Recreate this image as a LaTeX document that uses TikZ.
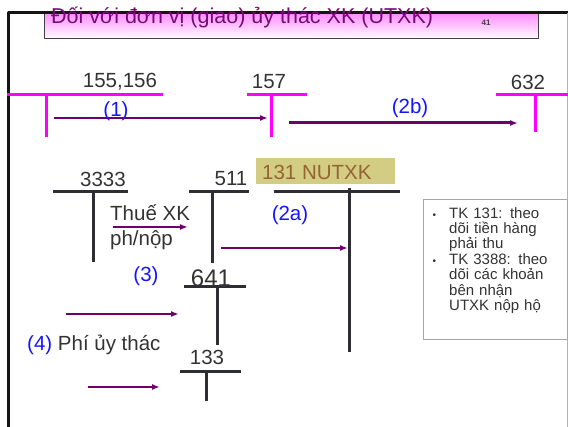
\documentclass[tikz,border=0pt]{standalone}
\usepackage{fontspec}
\setmainfont{Liberation Sans}
\usetikzlibrary{arrows.meta}
\definecolor{frameC}{RGB}{20,20,20}
\definecolor{titleC}{RGB}{120,10,120}
\definecolor{pinkC}{RGB}{255,0,255}
\definecolor{inkC}{RGB}{45,45,52}
\definecolor{flowC}{RGB}{110,0,110}
\definecolor{stepC}{RGB}{20,20,255}
\definecolor{oliveC}{RGB}{210,205,130}
\definecolor{brownC}{RGB}{150,100,50}
\tikzset{pacct/.style={draw=pinkC,line width=3pt},
 bacct/.style={draw=inkC,line width=3pt},
 flow/.style={draw=flowC,line width=2pt,-{Latex[length=8pt,width=6pt]}},
 acclabel/.style={inner sep=0pt,text=black!80,font=\fontsize{20.5}{24}\selectfont},
 steplabel/.style={inner sep=0pt,text=stepC,font=\fontsize{20.5}{24}\selectfont},
 every picture/.style={line join=round}}
\newcommand{\bul}{\leavevmode\llap{\fontsize{10}{10}\selectfont\textbullet\hspace{13pt}}}

\begin{document}
\begin{tikzpicture}[x=1pt,y=-1pt]
\useasboundingbox (0,0) rectangle (568,427);
\path[top color=magenta!45,bottom color=white] (44,13) rectangle (538,39);
\draw[draw=black!75,line width=1pt] (44,13) rectangle (538,39);
\draw[line width=3pt,draw=frameC] (8,427) -- (8,13) -- (568,13);
\draw[line width=.8pt,draw=black!30] (567,13) -- (567,427);
\node[anchor=base west,inner sep=0pt,text=titleC,font=\fontsize{21.5}{24}\selectfont] (title) at (51,24) {Đối với đơn vị (giao) ủy thác XK (UTXK)};
\node[inner sep=0pt,text=black!75,font=\bfseries\fontsize{8}{9}\selectfont] (pageno) at (486,23) {41};
% top row
\draw[pacct] (7,95) -- (163,95);
\draw[pacct] (46,95) -- (46,137);
\node[acclabel] (l155) at (120,82) {155,156};
\draw[pacct] (247,95) -- (307,95);
\draw[pacct] (271,95) -- (271,137);
\node[acclabel] (l157) at (269,82) {157};
\draw[pacct] (496,95) -- (568,95);
\draw[pacct] (535,95) -- (535,132);
\node[acclabel] (l632) at (528,82) {632};
\coordinate (a1s) at (54,118);
\coordinate (a1e) at (268,118);
\draw[flow] (a1s) -- (a1e);
\node[steplabel] (s1) at (116,111) {(1)};
\coordinate (a2bs) at (289,123);
\coordinate (a2be) at (518,123);
\draw[flow,line width=3pt] (a2bs) -- (a2be);
\node[steplabel] (s2b) at (410,108) {(2b)};
% lower row
\draw[bacct] (53,192) -- (128,192);
\draw[bacct] (93,192) -- (93,262);
\node[acclabel] (l3333) at (103,179) {3333};
\draw[bacct] (189,192) -- (249,192);
\draw[bacct] (212,192) -- (212,263);
\node[acclabel] (l511) at (231,179) {511};
\path[fill=oliveC] (256,158) rectangle (395,184);
\node[acclabel,anchor=west,text=brownC] (l131) at (262,172) {131 NUTXK};
\draw[bacct] (274,192) -- (400,192);
\draw[bacct] (349,188) -- (349,352);
\node[acclabel,anchor=west] (tax1) at (110,213) {Thuế XK};
\node[acclabel,anchor=west] (tax2) at (110,240) {ph/nộp};
\coordinate (ats) at (113,227);
\coordinate (ate) at (188,227);
\draw[flow] (ats) -- (ate);
\node[steplabel] (s2a) at (290,215) {(2a)};
\coordinate (a2as) at (221,248);
\coordinate (a2ae) at (348,248);
\draw[flow] (a2as) -- (a2ae);
\node[steplabel] (s3) at (146,276) {(3)};
\draw[bacct] (184,287) -- (246,287);
\draw[bacct] (217,287) -- (217,345);
\node[acclabel,font=\fontsize{24}{28}\selectfont] (l641) at (211,278) {641};
\coordinate (a3s) at (66,314);
\coordinate (a3e) at (179,314);
\draw[flow] (a3s) -- (a3e);
\node[acclabel,anchor=west] (s4) at (27,345) {\textcolor{stepC}{(4)} Phí ủy thác};
\draw[bacct] (180,372) -- (241,372);
\draw[bacct] (206,372) -- (206,401);
\node[acclabel] (l133) at (207,357) {133};
\coordinate (a4s) at (88,387);
\coordinate (a4e) at (160,387);
\draw[flow] (a4s) -- (a4e);
% note
\node[draw=black!35,line width=.8pt,inner sep=0pt,minimum width=144pt,minimum height=140pt,anchor=north west] (note) at (423,199) {};
\node[anchor=north west,inner sep=0pt,text width=118pt,align=left,text=black!80,font=\fontsize{15}{15.4}\selectfont] (notetxt) at (449,207) {\bul TK 131: theo\\ dõi tiền hàng\\ phải thu\\ \bul TK 3388: theo\\ dõi các khoản\\ bên nhận\\ UTXK nộp hộ};
\end{tikzpicture}
\end{document}
